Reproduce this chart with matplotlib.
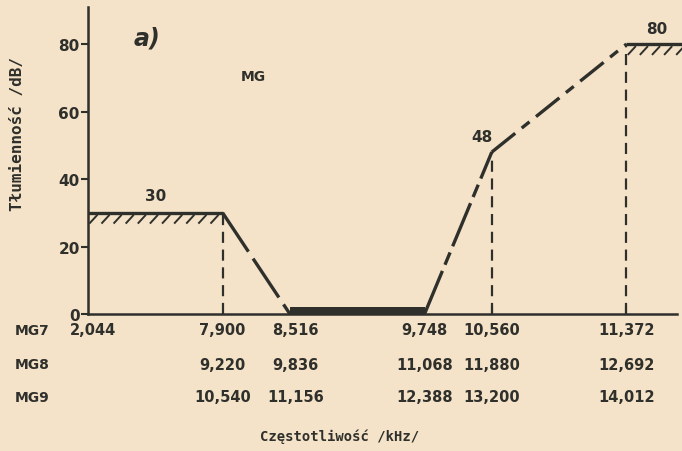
import numpy as np
import matplotlib.pyplot as plt
from matplotlib.collections import LineCollection
from matplotlib.transforms import blended_transform_factory

# Kolory i styl "skanu"
PAPER = '#f4e3c8'
INK = '#2f2f2b'
FONT = 'DejaVu Sans'
MONO = 'DejaVu Sans Mono'

# Dane charakterystyki (schematyczna oś x - punkty załamania)
breaks = [0, 2, 3, 5, 6, 8]          # kolejne punkty charakterystyki
atten = [30, 30, 0, 0, 48, 80]       # tłumienność /dB/
x_end = 8.83

rows = ['MG7', 'MG8', 'MG9']
freq_mg7 = ['2,044', '7,900', '8,516', '9,748', '10,560', '11,372']
freq_mg8 = ['', '9,220', '9,836', '11,068', '11,880', '12,692']
freq_mg9 = ['', '10,540', '11,156', '12,388', '13,200', '14,012']
y_ticks = [0, 20, 40, 60, 80]

plt.rcParams['font.family'] = [FONT]
plt.rcParams['font.weight'] = 'bold'

fig = plt.figure(figsize=(6.82, 4.52), dpi=100, facecolor=PAPER)
ax = fig.add_axes([88 / 682, 137 / 452, 589 / 682, 307 / 452])
ax.set_facecolor(PAPER)
ax.set_xlim(0, (677 - 88) / 67.3)
ax.set_ylim(0, 91)

for s in ['top', 'right']:
    ax.spines[s].set_visible(False)
for s in ['left', 'bottom']:
    ax.spines[s].set_color(INK)
    ax.spines[s].set_linewidth(1.8)

ax.set_yticks(y_ticks)
ax.set_yticklabels([str(v) for v in y_ticks], fontsize=11, color=INK, fontweight='bold')
ax.tick_params(axis='y', direction='out', length=5, width=1.5, color=INK, pad=1)
ax.set_xticks(breaks[4:])
ax.set_xticklabels([])
ax.tick_params(axis='x', direction='in', length=6, width=1.5, color=INK)

LW = 2.4


def hatch(x0, x1, y, h=3.2, step=0.18, slant=0.06):
    xs = np.arange(x0 + 0.08, x1, step)
    segs = [[(x - slant, y - h), (x + slant, y - 0.6)] for x in xs]
    ax.add_collection(LineCollection(segs, colors=INK, linewidths=1.4, clip_on=False))


# poziom 30 dB (pasmo zaporowe dolne)
ax.plot(breaks[0:2], atten[0:2], color=INK, lw=LW, solid_capstyle='butt')
hatch(breaks[0], breaks[1], atten[0])
# zbocze 30 -> 0
ax.plot(breaks[1:3], atten[1:3], color=INK, lw=LW, linestyle=(0, (14, 2.5)))
# pasmo przepustowe
ax.fill_between(breaks[2:4], 0, 2.0, color=INK, lw=0)
# zbocze 0 -> 48
ax.plot(breaks[3:5], atten[3:5], color=INK, lw=LW, linestyle=(0, (14, 2, 4, 2)))
# zbocze 48 -> 80
ax.plot(breaks[4:6], atten[4:6], color=INK, lw=LW, linestyle=(0, (9, 2.5, 3, 2.5)))
# poziom 80 dB
ax.plot([breaks[5], x_end], [atten[5], atten[5]], color=INK, lw=LW, clip_on=False,
        solid_capstyle='butt')
hatch(breaks[5], x_end, atten[5])

# linie pionowe (przerywane)
for xb, yb in [(breaks[1], atten[1]), (breaks[4], atten[4]), (breaks[5], atten[5])]:
    ax.plot([xb, xb], [0, yb], color=INK, lw=1.6, linestyle=(0, (5, 3)))

# opisy wartości
ax.text(1.0, atten[0] + 3, '30', ha='center', va='bottom', fontsize=11, color=INK)
ax.text(breaks[4] - 0.15, atten[4] + 2.5, '48', ha='center', va='bottom', fontsize=11, color=INK)
ax.text(8.45, atten[5] + 2.5, '80', ha='center', va='bottom', fontsize=11, color=INK)
ax.text(2.45, 70.5, 'MG', ha='center', va='center', fontsize=10, color=INK)
ax.text(0.88, 82, 'a)', ha='center', va='center', fontsize=17, color=INK,
        fontstyle='italic', fontweight='bold')

# tabela częstotliwości
tr = blended_transform_factory(ax.transData, ax.transAxes)
row_y = [-0.052, -0.163, -0.270]
for label, vals, yy in zip(rows, [freq_mg7, freq_mg8, freq_mg9], row_y):
    fig.text(15 / 682, ax.transAxes.transform((0, yy))[1] / 452, label,
             ha='left', va='center', fontsize=10, color=INK)
    for i, (xb, v) in enumerate(zip(breaks, vals)):
        if not v:
            continue
        if i == 0:
            ax.text(-0.27, yy, v, transform=tr, ha='left', va='center',
                    fontsize=10.5, color=INK, clip_on=False)
        else:
            ax.text(xb + (0.08 if i == 2 else 0), yy, v, transform=tr, ha='center',
                    va='center', fontsize=10.5, color=INK, clip_on=False)

fig.text(340 / 682, 1 - 437 / 452, 'Częstotliwość /kHz/', ha='center', va='center',
         fontsize=10, family=MONO, fontweight='bold', color=INK)
fig.text(18 / 682, 1 - 134 / 452, 'Tłumienność /dB/', ha='center', va='center',
         rotation=90, fontsize=11.5, family=MONO, fontweight='bold', color=INK)

fig.savefig('out.png', dpi=100, facecolor=PAPER)
